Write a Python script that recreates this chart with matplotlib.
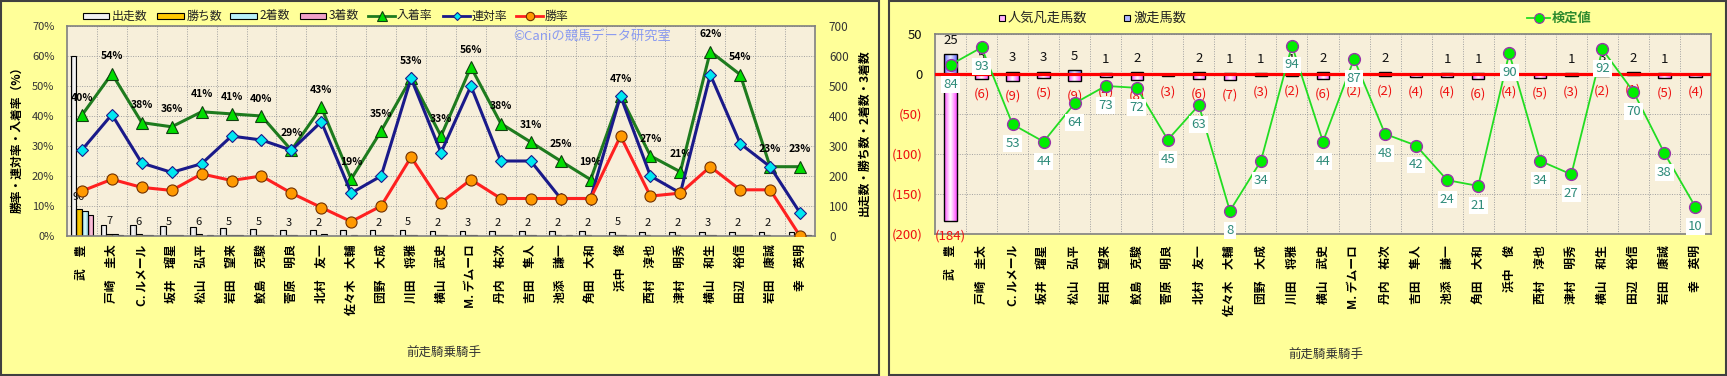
import numpy as np
import matplotlib
matplotlib.use('Agg')
import matplotlib.pyplot as plt
from matplotlib.patches import Rectangle
from matplotlib.lines import Line2D
from matplotlib.colors import LinearSegmentedColormap

plt.rcParams['font.family'] = ['Noto Sans CJK JP', 'DejaVu Sans']

# ---------------- data ----------------
jockeys = ["武　豊", "戸崎　圭太", "C. ルメール", "坂井　瑠星", "松山　弘平", "岩田　望来",
           "鮫島　克駿", "菅原　明良", "北村　友一", "佐々木　大輔", "団野　大成", "川田　将雅",
           "横山　武史", "M. デムーロ", "丹内　祐次", "吉田　隼人", "池添　謙一", "角田　大和",
           "浜中　俊", "西村　淳也", "津村　明秀", "横山　和生", "田辺　裕信", "岩田　康誠", "幸　英明"]

starts = [600, 37, 37, 33, 29, 27, 25, 21, 21, 21, 20, 19, 18, 16, 16, 16, 16, 16, 15, 15, 14, 13, 13, 13, 13]
wins = [90, 7, 6, 5, 6, 5, 5, 3, 2, 1, 2, 5, 2, 3, 2, 2, 2, 2, 5, 2, 2, 3, 2, 2, 0]
seconds = [82, 8, 3, 2, 1, 4, 3, 3, 6, 2, 2, 5, 3, 5, 2, 2, 0, 0, 2, 1, 0, 4, 2, 1, 1]
thirds = [70, 5, 5, 5, 5, 2, 2, 0, 1, 1, 3, 0, 1, 1, 2, 1, 2, 1, 0, 1, 1, 1, 3, 0, 2]

win_rate = [15.0, 18.9, 16.2, 15.2, 20.7, 18.5, 20.0, 14.3, 9.5, 4.8, 10.0, 26.3, 11.1,
            18.8, 12.5, 12.5, 12.5, 12.5, 33.3, 13.3, 14.3, 23.1, 15.4, 15.4, 0.0]
rentai_rate = [28.7, 40.5, 24.3, 21.2, 24.1, 33.3, 32.0, 28.6, 38.1, 14.3, 20.0, 52.6, 27.8,
               50.0, 25.0, 25.0, 12.5, 12.5, 46.7, 20.0, 14.3, 53.8, 30.8, 23.1, 7.7]
place_rate = [40.3, 54.1, 37.8, 36.4, 41.4, 40.7, 40.0, 28.6, 42.9, 19.0, 35.0, 52.6, 33.3,
              56.3, 37.5, 31.3, 25.0, 18.8, 46.7, 26.7, 21.4, 61.5, 53.8, 23.1, 23.1]

gekisou = [25, 5, 3, 3, 5, 1, 2, 0, 2, 1, 1, 1, 2, 0, 2, 0, 1, 1, 0, 0, 1, 3, 2, 1, 0]
bonsou = [184, 6, 9, 5, 9, 4, 8, 3, 6, 7, 3, 2, 6, 2, 2, 4, 4, 6, 4, 5, 3, 2, 1, 5, 4]
kentei = [84, 93, 53, 44, 64, 73, 72, 45, 63, 8, 34, 94, 44, 87, 48, 42, 24, 21, 90, 34, 27, 92, 70, 38, 10]

# ---------------- helpers ----------------
W, H = 1727, 376
YELLOW = '#FFFF99'
PLOT_BG = '#F7EFDA'
GRID = dict(color='#A0A0A0', linestyle=(0, (1, 1.5)), linewidth=0.7)

fig = plt.figure(figsize=(W / 100, H / 100), dpi=100, facecolor=YELLOW)


def fbox(x0, y0, x1, y1):
    return [x0 / W, 1 - y1 / H, (x1 - x0) / W, (y1 - y0) / H]


def gradient(colors, n=64):
    cm = LinearSegmentedColormap.from_list('g', colors)
    return cm(np.linspace(0, 1, n))[None, :, :]


def grad_bar(ax, xc, y0, y1, w, colors, z=2, lw=0.8):
    lo, hi = min(y0, y1), max(y0, y1)
    rect = Rectangle((xc - w / 2, lo), w, hi - lo, facecolor='none',
                     edgecolor='black', lw=lw, zorder=z + 0.5)
    ax.add_patch(rect)
    if hi > lo:
        im = ax.imshow(gradient(colors), extent=[xc - w / 2, xc + w / 2, lo, hi],
                       aspect='auto', interpolation='bilinear', zorder=z, origin='lower')
        im.set_clip_path(rect)


def style_axes(ax):
    ax.set_facecolor(PLOT_BG)
    ax.set_xlim(-0.5, len(jockeys) - 0.5)
    ax.set_axisbelow(True)
    ax.yaxis.grid(True, **GRID)
    ax.set_xticks(np.arange(0.5, len(jockeys) - 0.5, 1), minor=True)
    ax.xaxis.grid(True, which='minor', **GRID)
    ax.tick_params(which='minor', length=0)
    for s in ax.spines.values():
        s.set_color('#808080')
        s.set_linewidth(1.2)


# panel borders
for (a, b) in [(1, 879), (889, 1726)]:
    fig.add_artist(Rectangle((a / W, 1 / H), (b - a) / W, (H - 2) / H, transform=fig.transFigure,
                             fill=False, edgecolor='#404040', lw=1.5))

xs = np.arange(len(jockeys))

# ---------------- left chart ----------------
ax1 = fig.add_axes(fbox(67, 26, 815, 236))
style_axes(ax1)
ax2 = ax1.twinx()

bw = 0.19
offs = [-1.5 * bw, -0.5 * bw, 0.5 * bw, 1.5 * bw]
bar_series = [
    (starts, ['#A8A8A8', '#FFFFFF', '#C8C8C8']),
    (wins, ['#C88000', '#FFD700', '#E0A000']),
    (seconds, ['#60B8CC', '#E0FFFF', '#88CCDD']),
    (thirds, ['#C85088', '#FFD0E4', '#DD78AA']),
]
for k, (vals, cols) in enumerate(bar_series):
    for i, v in enumerate(vals):
        grad_bar(ax1, xs[i] + offs[k], 0, v, bw, cols, z=2, lw=0.8)
for i, v in enumerate(wins):
    if v > 0:
        ax1.annotate(str(v), (xs[i] + offs[1], v), xytext=(0, 9), textcoords='offset points',
                     ha='center', va='center', fontsize=8, color='#111111')
ax1.set_xlim(-0.5, len(jockeys) - 0.5)
ax1.set_ylim(0, 700)
ax1.set_yticks(np.arange(0, 701, 100))
ax1.yaxis.tick_right()
ax1.tick_params(axis='y', length=0, pad=10, labelsize=8.5, labelcolor='#333333')
ax1.set_xticks(xs)
ax1.set_xticklabels(jockeys, rotation=90, fontsize=8.5, fontweight='bold', va='top', ha='center')
ax1.tick_params(axis='x', length=0, pad=6)

ax2.set_ylim(0, 70)
ax2.set_yticks(np.arange(0, 71, 10))
ax2.set_yticklabels([f"{v}%" for v in range(0, 71, 10)])
ax2.yaxis.tick_left()
ax2.tick_params(axis='y', length=0, pad=9, labelsize=8, labelcolor='#333333')
for s in ax2.spines.values():
    s.set_visible(False)

ax2.plot(xs, place_rate, color='#1E7B1E', lw=2.2, marker='^', ms=9, mfc='#00DD00',
         mec='#104010', mew=0.8, zorder=3)
ax2.plot(xs, rentai_rate, color='#1A1A8A', lw=2.2, marker='D', ms=6, mfc='#00E8F0',
         mec='#1A1A8A', mew=0.8, zorder=3.1)
ax2.plot(xs, win_rate, color='#FF2020', lw=2.2, marker='o', ms=8, mfc='#FF9900',
         mec='#703000', mew=0.8, zorder=3.2)
for i, v in enumerate(place_rate):
    ax2.annotate(f"{v:.0f}%", (xs[i], v), xytext=(0, 12.5), textcoords='offset points',
                 ha='center', va='center', fontsize=7.5, fontweight='bold', color='black')

fig.text(513 / W, 1 - 36 / H, '©Caniの競馬データ研究室', color='#8A9AF0', fontsize=9.5,
         ha='left', va='center')
fig.text(17 / W, 1 - 137 / H, '勝率・連対率・入着率（%）', rotation=90, ha='center', va='center',
         fontsize=8.5, fontweight='bold')
fig.text(864 / W, 1 - 133 / H, '出走数・勝ち数・2着数・3着数', rotation=90, ha='center', va='center',
         fontsize=8.5, fontweight='bold')
fig.text(444 / W, 1 - 353 / H, '前走騎乗騎手', ha='center', va='center', fontsize=9, color='#333333')

# left legend
def leg_patch(x0, x1, yc, h, fc, label, fs=8.6):
    fig.add_artist(Rectangle((x0 / W, 1 - (yc + h / 2) / H), (x1 - x0) / W, h / H,
                             transform=fig.transFigure, facecolor=fc, edgecolor='black', lw=0.8))
    fig.text((x1 + 3) / W, 1 - yc / H, label, ha='left', va='center', fontsize=fs, color='#222222')


def leg_line(x0, x1, yc, color, lw, marker, ms, mfc, mec, label, fs=8.6, tcolor='#222222', weight='normal'):
    fig.add_artist(Line2D([x0 / W, x1 / W], [1 - yc / H, 1 - yc / H], transform=fig.transFigure,
                          color=color, lw=lw))
    fig.add_artist(Line2D([(x0 + x1) / 2 / W], [1 - yc / H], transform=fig.transFigure,
                          marker=marker, ms=ms, mfc=mfc, mec=mec, mew=0.8, lw=0))
    fig.text((x1 + 2) / W, 1 - yc / H, label, ha='left', va='center', fontsize=fs,
             color=tcolor, fontweight=weight)


leg_patch(83, 109, 16, 6, '#F0F0F0', '出走数')
leg_patch(157, 184, 16, 6, '#FFC800', '勝ち数')
leg_patch(230, 257, 16, 6, '#B8F0F8', '2着数')
leg_patch(300, 326, 16, 6, '#F0A0C8', '3着数')
leg_line(368, 395, 16, '#1E7B1E', 2.0, '^', 6.5, '#00DD00', '#104010', '入着率')
leg_line(443, 470, 16, '#1A1A8A', 2.0, 'D', 4.5, '#00E8F0', '#1A1A8A', '連対率')
leg_line(516, 543, 16, '#FF2020', 2.0, 'o', 6, '#FF9900', '#703000', '勝率')

# ---------------- right chart ----------------
ax3 = fig.add_axes(fbox(935, 34, 1711, 234))
style_axes(ax3)
ax4 = ax3.twinx()

pos_cols = ['#6A6AFF', '#E8F0FF', '#6A6AFF']
neg_cols = ['#FF4CFF', '#FFFFFF', '#FF4CFF']
for i in range(len(jockeys)):
    if gekisou[i] > 0:
        grad_bar(ax3, xs[i], 0, gekisou[i], 0.4, pos_cols, z=2, lw=1.0)
    if bonsou[i] > 0:
        grad_bar(ax3, xs[i], 0, -bonsou[i], 0.4, neg_cols, z=2, lw=1.0)
ax3.axhline(0, color='#FF0000', lw=2.3, zorder=2.8)
for i in range(len(jockeys)):
    if gekisou[i] > 0:
        ax3.annotate(str(gekisou[i]), (xs[i], gekisou[i]), xytext=(0, 10), textcoords='offset points',
                     ha='center', va='center', fontsize=9.5, color='#111111', zorder=3)
    if bonsou[i] > 0:
        ax3.annotate(f"({bonsou[i]})", (xs[i], -bonsou[i]), xytext=(0, -11), textcoords='offset points',
                     ha='center', va='center', fontsize=9.5, color='#EE1111', zorder=3)
ax3.set_xlim(-0.5, len(jockeys) - 0.5)
ax3.set_ylim(-200, 50)
yt = [-200, -150, -100, -50, 0, 50]
ax3.set_yticks(yt)
ax3.set_yticklabels([f"({-v})" if v < 0 else str(v) for v in yt])
for lab, v in zip(ax3.get_yticklabels(), yt):
    lab.set_color('#EE1111' if v < 0 else '#111111')
ax3.yaxis.tick_left()
ax3.tick_params(axis='y', length=0, pad=9, labelsize=9.5)
ax3.set_xticks(xs)
ax3.set_xticklabels(jockeys, rotation=90, fontsize=8.5, fontweight='bold', va='top', ha='center')
ax3.tick_params(axis='x', length=0, pad=8)

ax4.set_ylim(-4, 100)
ax4.set_yticks([])
for s in ax4.spines.values():
    s.set_visible(False)
ax4.plot(xs, kentei, color='#22DD22', lw=1.3, marker='o', ms=8.5, mfc='#00EE00',
         mec='#9933AA', mew=1.0, zorder=3)
for i, v in enumerate(kentei):
    ax4.annotate(str(v), (xs[i], v), xytext=(0, -14), textcoords='offset points',
                 ha='center', va='center', fontsize=9.5, color='#2E8B7A', zorder=4,
                 bbox=dict(boxstyle='square,pad=0.15', fc='white', ec='none'))

fig.text(1326 / W, 1 - 355 / H, '前走騎乗騎手', ha='center', va='center', fontsize=9, color='#333333')

# right legend
def leg_square(xc, yc, s, fc, label):
    fig.add_artist(Rectangle(((xc - s / 2) / W, 1 - (yc + s / 2) / H), s / W, s / H,
                             transform=fig.transFigure, facecolor=fc, edgecolor='black', lw=0.8))
    fig.text((xc + s / 2 + 3) / W, 1 - yc / H, label, ha='left', va='center', fontsize=9.5,
             color='#222222')


leg_square(1002, 18, 6, '#FFB0FF', '人気凡走馬数')
leg_square(1127, 18, 6, '#B0B8FF', '激走馬数')
leg_line(1527, 1550, 18, '#22DD22', 1.3, 'o', 7, '#00EE00', '#9933AA', '検定値', fs=9.5,
         tcolor='#2E8B2E', weight='bold')

fig.savefig('out.png', dpi=100, facecolor=YELLOW)
